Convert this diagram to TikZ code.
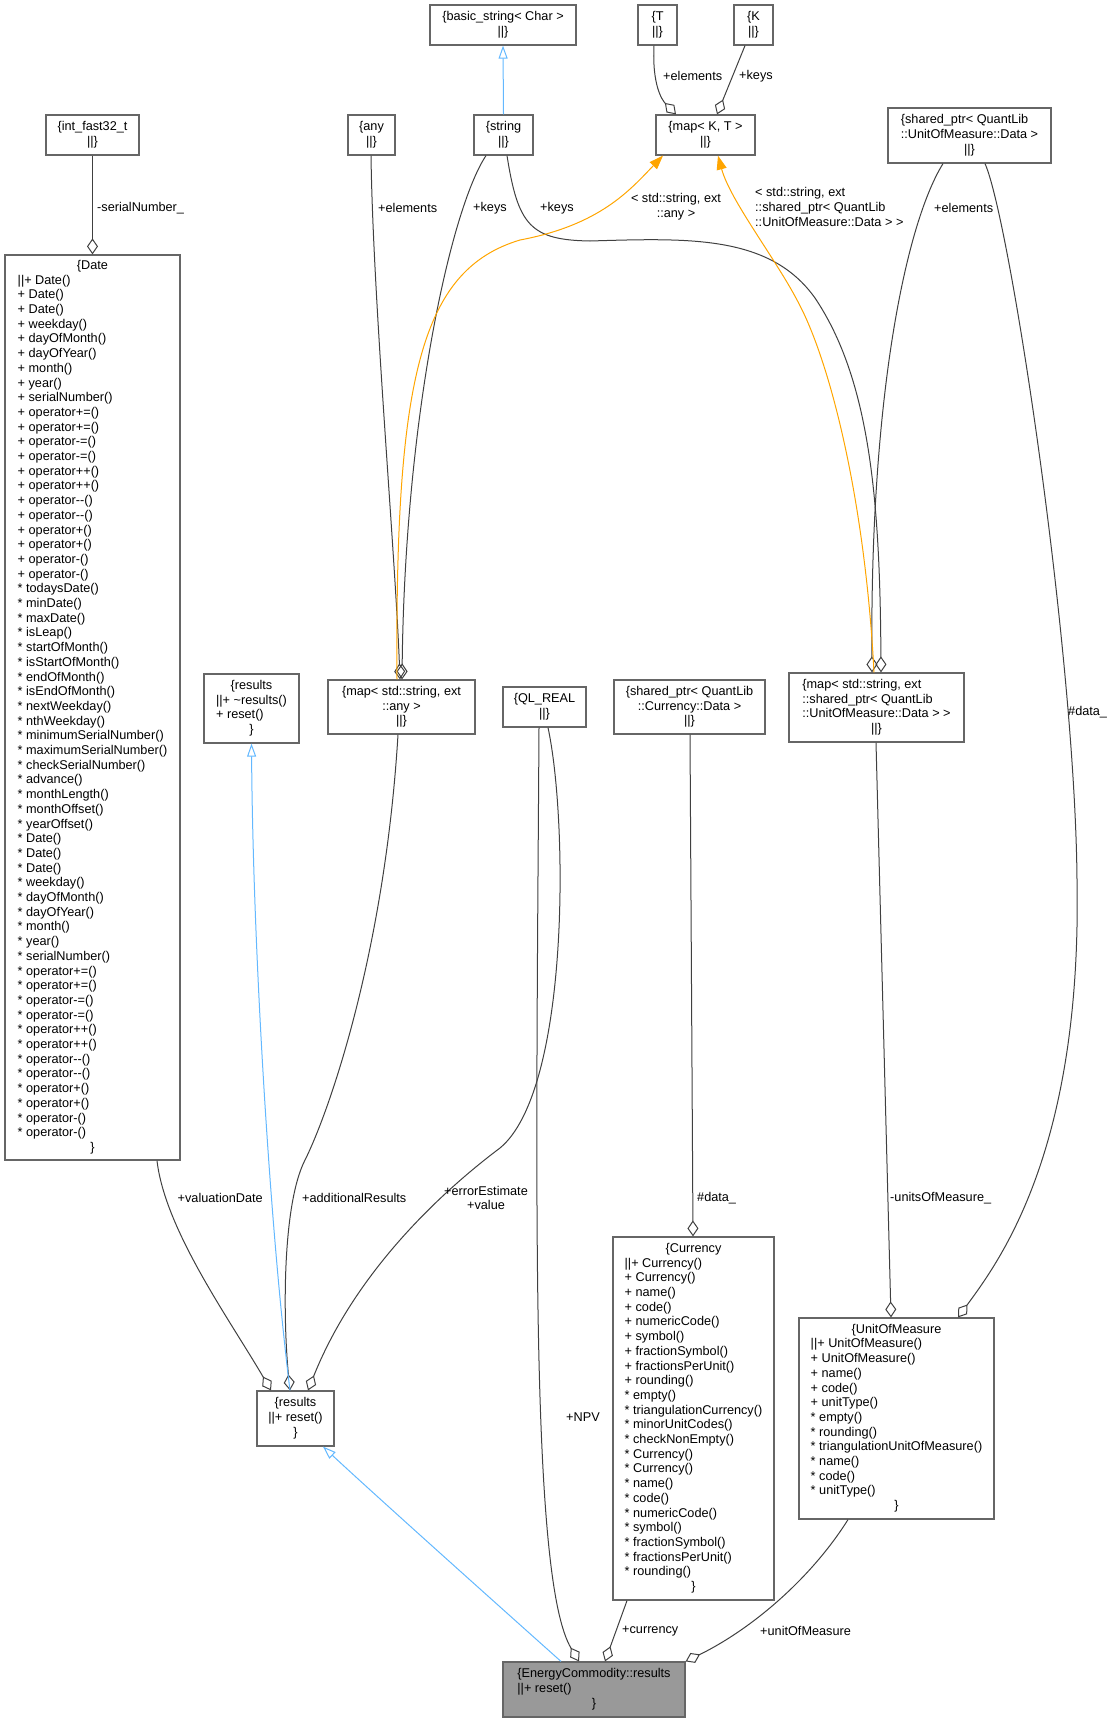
\documentclass[tikz,border=0pt]{standalone}
\usepackage{fontspec}
\setmainfont{Liberation Sans}
\usetikzlibrary{arrows.meta}
\definecolor{boxgray}{HTML}{666666}
\definecolor{usegray}{HTML}{404040}
\definecolor{focusgray}{HTML}{999999}
\definecolor{inhblue}{HTML}{63B8FF}
\definecolor{tplorange}{HTML}{FFA500}
% record with centred name, left member lines, centred closing brace
\newcommand{\classrec}[2]{\begin{tabular}{@{}l@{}}\multicolumn{1}{@{}c@{}}{\{#1}\\#2\\\multicolumn{1}{@{}c@{}}{\}}\end{tabular}}
\newcommand{\leftrec}[1]{\begin{tabular}{@{}l@{}}#1\\\multicolumn{1}{@{}c@{}}{||\}}\end{tabular}}
\tikzset{
  cls/.style={draw=boxgray, line width=1.2pt, fill=white, inner sep=0pt, align=center,
    font=\fontsize{12.7}{14.7}\selectfont},
  focus/.style={cls, fill=focusgray},
  lbl/.style={inner sep=0pt, font=\fontsize{12.7}{14.7}\selectfont},
  aggr/.style={draw=usegray, line width=1pt, -{Diamond[open,length=16pt,width=11pt]}},
  inh/.style={draw=inhblue, line width=1pt, -{Triangle[open,length=13pt,width=9pt]}},
  tpl/.style={draw=tplorange, line width=1pt, -{Triangle[length=14pt,width=10pt]}}
}

\begin{document}
\begin{tikzpicture}[x=1pt,y=-1pt,>=Stealth]
  \useasboundingbox (0,0) rectangle (1118,1723);
  % top rows
  \node[cls,minimum width=146pt,minimum height=40pt] (bstr) at (503,25) {\{basic\_string< Char >\\||\}};
  \node[cls,minimum width=39pt,minimum height=40pt] (tT) at (657.5,25) {\{T\\||\}};
  \node[cls,minimum width=39pt,minimum height=40pt] (tK) at (753.5,25) {\{K\\||\}};
  \node[cls,minimum width=93pt,minimum height=40pt] (ifast) at (92.5,135) {\{int\_fast32\_t\\||\}};
  \node[cls,minimum width=47pt,minimum height=40pt] (any) at (371.5,135) {\{any\\||\}};
  \node[cls,minimum width=59pt,minimum height=40pt] (str) at (503.5,135) {\{string\\||\}};
  \node[cls,minimum width=99pt,minimum height=40pt] (mapKT) at (705.5,135) {\{map< K, T >\\||\}};
  \node[cls,minimum width=163pt,minimum height=55pt] (spUoM) at (969.5,135.5)
    {\leftrec{\{shared\_ptr< QuantLib\\::UnitOfMeasure::Data >}};
  % Date
  \node[cls,minimum width=175pt,minimum height=905pt] (date) at (92.5,707.5) {\classrec{Date}{%
    ||+ Date()\\+ Date()\\+ Date()\\+ weekday()\\+ dayOfMonth()\\+ dayOfYear()\\+ month()\\
    + year()\\+ serialNumber()\\+ operator+=()\\+ operator+=()\\+ operator-=()\\+ operator-=()\\
    + operator++()\\+ operator++()\\+ operator-{}-()\\+ operator-{}-()\\+ operator+()\\+ operator+()\\
    + operator-()\\+ operator-()\\{*} todaysDate()\\{*} minDate()\\{*} maxDate()\\{*} isLeap()\\
    {*} startOfMonth()\\{*} isStartOfMonth()\\{*} endOfMonth()\\{*} isEndOfMonth()\\
    {*} nextWeekday()\\{*} nthWeekday()\\{*} minimumSerialNumber()\\{*} maximumSerialNumber()\\
    {*} checkSerialNumber()\\{*} advance()\\{*} monthLength()\\{*} monthOffset()\\{*} yearOffset()\\
    {*} Date()\\{*} Date()\\{*} Date()\\{*} weekday()\\{*} dayOfMonth()\\{*} dayOfYear()\\
    {*} month()\\{*} year()\\{*} serialNumber()\\{*} operator+=()\\{*} operator+=()\\
    {*} operator-=()\\{*} operator-=()\\{*} operator++()\\{*} operator++()\\{*} operator-{}-()\\
    {*} operator-{}-()\\{*} operator+()\\{*} operator+()\\{*} operator-()\\{*} operator-()}};
  % middle row
  \node[cls,minimum width=95pt,minimum height=69pt] (resB) at (251.5,708.5)
    {\classrec{results}{||+ \textasciitilde{}results()\\+ reset()}};
  \node[cls,minimum width=147pt,minimum height=54pt] (mapAny) at (401.5,707) {\{map< std::string, ext\\::any >\\||\}};
  \node[cls,minimum width=83pt,minimum height=40pt] (qlreal) at (544.5,707) {\{QL\_REAL\\||\}};
  \node[cls,minimum width=151pt,minimum height=54pt] (spCur) at (689.5,707) {\{shared\_ptr< QuantLib\\::Currency::Data >\\||\}};
  \node[cls,minimum width=175pt,minimum height=69pt] (mapUoM) at (876.5,707.5)
    {\leftrec{\{map< std::string, ext\\::shared\_ptr< QuantLib\\::UnitOfMeasure::Data > >}};
  % lower row
  \node[cls,minimum width=77pt,minimum height=55pt] (resD) at (295.5,1418.5) {\classrec{results}{||+ reset()}};
  \node[cls,minimum width=161pt,minimum height=363pt] (cur) at (693.5,1418.5) {\classrec{Currency}{%
    ||+ Currency()\\+ Currency()\\+ name()\\+ code()\\+ numericCode()\\+ symbol()\\+ fractionSymbol()\\
    + fractionsPerUnit()\\+ rounding()\\{*} empty()\\{*} triangulationCurrency()\\{*} minorUnitCodes()\\
    {*} checkNonEmpty()\\{*} Currency()\\{*} Currency()\\{*} name()\\{*} code()\\{*} numericCode()\\
    {*} symbol()\\{*} fractionSymbol()\\{*} fractionsPerUnit()\\{*} rounding()}};
  \node[cls,minimum width=195pt,minimum height=201pt] (uom) at (896.5,1418.5) {\classrec{UnitOfMeasure}{%
    ||+ UnitOfMeasure()\\+ UnitOfMeasure()\\+ name()\\+ code()\\+ unitType()\\{*} empty()\\
    {*} rounding()\\{*} triangulationUnitOfMeasure()\\{*} name()\\{*} code()\\{*} unitType()}};
  \node[focus,minimum width=182pt,minimum height=55pt] (ecr) at (594,1689.5)
    {\classrec{EnergyCommodity::results}{||+ reset()}};

  % connectors
  \draw[aggr] (ifast.south) -- (date.north);
  \draw[inh] (str.north) -- (bstr.south);
  \draw[aggr] ([xshift=-3.5pt]tT.south) .. controls (652,85) and (662,100) .. ([xshift=-29.5pt]mapKT.north);
  \draw[aggr] ([xshift=-8.5pt]tK.south) -- ([xshift=11.5pt]mapKT.north);
  \draw[aggr] ([xshift=-0.5pt]any.south) .. controls (373,300) and (395,550) .. ([xshift=-1.5pt]mapAny.north);
  \draw[aggr] ([xshift=-17.5pt]str.south) .. controls (450,210) and (405,420) .. ([xshift=0.5pt]mapAny.north);
  \draw[aggr] ([xshift=3.5pt]str.south) .. controls (518,225) and (530,240) .. (590,241)
    .. controls (690,238) and (770,235) .. (815,298)
    .. controls (870,380) and (880,500) .. ([xshift=4.5pt]mapUoM.north);
  \draw[aggr] ([xshift=-26.5pt]spUoM.south) .. controls (905,225) and (870,400) .. ([xshift=-4.5pt]mapUoM.north);
  \draw[aggr] ([xshift=15.5pt]spUoM.south) .. controls (1010,220) and (1075,650) .. (1077,880)
    .. controls (1082,1150) and (1000,1260) .. ([xshift=61.5pt]uom.north);
  \draw[tpl] ([xshift=-4.5pt]mapAny.north) .. controls (395,380) and (420,270) .. (520,240)
    .. controls (600,225) and (630,190) .. ([xshift=-42.5pt]mapKT.south);
  \draw[tpl] ([xshift=-2.5pt]mapUoM.north) .. controls (865,500) and (830,360) .. (797,300)
    .. controls (775,258) and (730,200) .. ([xshift=12.5pt]mapKT.south);
  \draw[aggr] ([xshift=-5.5pt]qlreal.south) .. controls (536,1200) and (530,1580) .. ([xshift=-15pt]ecr.north);
  \draw[aggr] ([xshift=3.5pt]qlreal.south) .. controls (568,820) and (570,1090) .. (500,1148)
    .. controls (460,1178) and (360,1260) .. ([xshift=12.5pt]resD.north);
  \draw[aggr] ([xshift=-3.5pt]mapAny.south) .. controls (385,950) and (330,1110) .. (305,1160)
    .. controls (282,1205) and (283,1320) .. ([xshift=-5.5pt]resD.north);
  \draw[aggr] ([xshift=64.5pt]date.south) .. controls (165,1230) and (230,1320) .. ([xshift=-24.5pt]resD.north);
  \draw[inh] ([xshift=-5.5pt]resD.north) .. controls (270,1230) and (253,950) .. (resB.south);
  \draw[inh] ([xshift=-33pt]ecr.north) .. controls (490,1598) and (375,1495) .. ([xshift=27.5pt]resD.south);
  \draw[aggr] ([xshift=0.5pt]spCur.south) -- ([xshift=-0.5pt]cur.north);
  \draw[aggr] ([xshift=-0.5pt]mapUoM.south) -- ([xshift=-5.5pt]uom.north);
  \draw[aggr] ([xshift=-66.5pt]cur.south) -- ([xshift=11pt]ecr.north);
  \draw[aggr] ([xshift=-48.5pt]uom.south) .. controls (810,1580) and (750,1630) .. (ecr.north east);

  % connector labels
  \node[lbl,anchor=west] (lSerial) at (97,208) {-serialNumber\_};
  \node[lbl,anchor=west] (lElemT) at (663,76) {+elements};
  \node[lbl,anchor=west] (lKeysK) at (739,76) {+keys};
  \node[lbl,anchor=west] (lElemAny) at (378,208) {+elements};
  \node[lbl,anchor=west] (lKeysA) at (473,208) {+keys};
  \node[lbl,anchor=west] (lKeysB) at (540,208) {+keys};
  \node[lbl,align=center] (lTplAny) at (676,207) {< std::string, ext\\::any >};
  \node[lbl,align=left,anchor=west] (lTplUoM) at (755,207) {< std::string, ext\\::shared\_ptr< QuantLib\\::UnitOfMeasure::Data > >};
  \node[lbl,anchor=west] (lElemSp) at (934,208) {+elements};
  \node[lbl,anchor=west] (lDataU) at (1068,712) {\#data\_};
  \node[lbl,anchor=east] (lValDate) at (263,1198) {+valuationDate};
  \node[lbl,anchor=west] (lAddRes) at (302,1198) {+additionalResults};
  \node[lbl,align=center] (lErrVal) at (486,1198) {+errorEstimate\\+value};
  \node[lbl,anchor=west] (lNPV) at (566,1417) {+NPV};
  \node[lbl,anchor=west] (lDataC) at (697,1198) {\#data\_};
  \node[lbl,anchor=west] (lUnits) at (890,1198) {-unitsOfMeasure\_};
  \node[lbl,anchor=west] (lCur) at (622,1631) {+currency};
  \node[lbl,anchor=west] (lUoM) at (760,1631) {+unitOfMeasure};
\end{tikzpicture}
\end{document}
